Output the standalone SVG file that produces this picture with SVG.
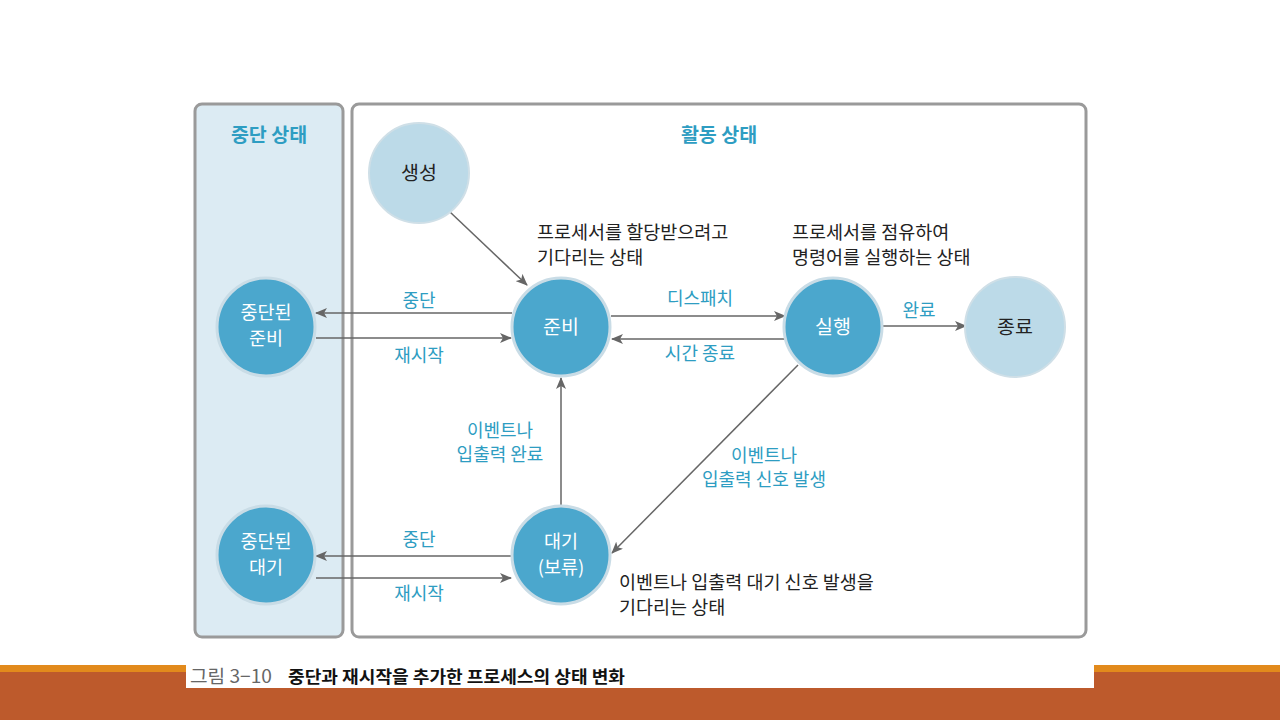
<svg xmlns="http://www.w3.org/2000/svg" width="1280" height="720" viewBox="0 0 1280 720">
<defs>
<marker id="ah" viewBox="0 0 12 10" refX="11" refY="5" markerWidth="12" markerHeight="10" markerUnits="userSpaceOnUse" orient="auto">
<path d="M0,0 L12,5 L0,10 L3,5 Z" fill="#666"/>
</marker>
</defs>
<style>
text{font-family:"Noto Sans CJK KR","Noto Sans",sans-serif;}
.panel{stroke:#9a9a9a;stroke-width:3}
.dark{fill:#4ba7cd;stroke:#c9dce6;stroke-width:3}
.light{fill:#bcdae8;stroke:#cfdfe7;stroke-width:2}
.nt{font-size:19.5px;fill:#fff;text-anchor:middle}
.nt2{font-size:18.5px;fill:#fff;text-anchor:middle}
.ntd{font-size:19.5px;fill:#222;text-anchor:middle}
.lbl{font-size:18px;fill:#2e9dc2;text-anchor:middle}
.desc{font-size:18.5px;fill:#222}
.title{font-size:19.5px;fill:#2e9dc2;text-anchor:middle;font-weight:bold}
.edge{stroke:#666;stroke-width:1.5;fill:none;marker-end:url(#ah)}
</style>
<rect width="1280" height="720" fill="#fff"/>
<rect x="195" y="104" width="148" height="533" rx="7" class="panel" fill="#dcebf3"/>
<rect x="352" y="104" width="734" height="533" rx="7" class="panel" fill="#fff"/>
<text x="269" y="142" class="title">중단 상태</text>
<text x="719" y="142" class="title">활동 상태</text>
<g id="connectors">
<line x1="450" y1="212" x2="527" y2="285" class="edge"/>
<line x1="512" y1="313" x2="316" y2="313" class="edge"/>
<line x1="316" y1="338" x2="511" y2="338" class="edge"/>
<line x1="611" y1="316" x2="785" y2="316" class="edge"/>
<line x1="785" y1="339" x2="612" y2="339" class="edge"/>
<line x1="883" y1="326" x2="966" y2="326" class="edge"/>
<line x1="561" y1="506" x2="561" y2="378" class="edge"/>
<line x1="798" y1="365" x2="612" y2="553" class="edge"/>
<line x1="512" y1="556" x2="316" y2="556" class="edge"/>
<line x1="316" y1="578" x2="511" y2="578" class="edge"/>
<text x="419" y="307" class="lbl">중단</text>
<text x="419" y="362" class="lbl">재시작</text>
<text x="700" y="305" class="lbl">디스패치</text>
<text x="700" y="360" class="lbl">시간 종료</text>
<text x="919" y="317" class="lbl">완료</text>
<text x="500" y="437" class="lbl">이벤트나</text>
<text x="500" y="461" class="lbl">입출력 완료</text>
<text x="764" y="462" class="lbl">이벤트나</text>
<text x="764" y="486" class="lbl">입출력 신호 발생</text>
<text x="419" y="546" class="lbl">중단</text>
<text x="419" y="600" class="lbl">재시작</text>
</g>
<g id="node-create"><circle cx="419" cy="173" r="50" class="light"/><text x="419" y="180" class="ntd">생성</text></g>
<g id="node-ready"><circle cx="561" cy="327" r="49" class="dark"/><text x="561" y="334" class="nt">준비</text></g>
<g id="node-run"><circle cx="833" cy="327" r="49" class="dark"/><text x="833" y="334" class="nt">실행</text></g>
<g id="node-exit"><circle cx="1015" cy="327" r="50" class="light"/><text x="1015" y="334" class="ntd">종료</text></g>
<g id="node-susp-ready"><circle cx="266" cy="327" r="49" class="dark"/><text x="266" y="319" class="nt2">중단된</text><text x="266" y="345" class="nt2">준비</text></g>
<g id="node-susp-wait"><circle cx="266" cy="555" r="49" class="dark"/><text x="266" y="548" class="nt2">중단된</text><text x="266" y="574" class="nt2">대기</text></g>
<g id="node-wait"><circle cx="561" cy="555" r="49" class="dark"/><text x="561" y="548" class="nt2">대기</text><text x="561" y="574" class="nt2">(보류)</text></g>
<g id="descriptions">
<text x="537" y="239" class="desc">프로세서를 할당받으려고</text>
<text x="537" y="264" class="desc">기다리는 상태</text>
<text x="792" y="239" class="desc">프로세서를 점유하여</text>
<text x="792" y="264" class="desc">명령어를 실행하는 상태</text>
<text x="619" y="589" class="desc">이벤트나 입출력 대기 신호 발생을</text>
<text x="619" y="614" class="desc">기다리는 상태</text>
</g>
<g id="footer">
<rect x="0" y="665" width="1280" height="7" fill="#e28a1c"/>
<rect x="0" y="672" width="1280" height="48" fill="#bd5a2c"/>
<rect x="186" y="664" width="908" height="24" fill="#fff"/>
<text x="190" y="683" font-size="18" fill="#666" textLength="82" lengthAdjust="spacingAndGlyphs">그림 3−10</text>
<text x="288" y="683" font-size="17" fill="#111" font-weight="bold" textLength="337" lengthAdjust="spacingAndGlyphs">중단과 재시작을 추가한 프로세스의 상태 변화</text>
</g>
</svg>
